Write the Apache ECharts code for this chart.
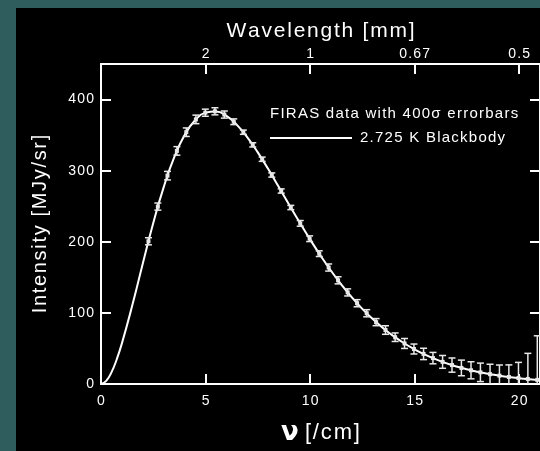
<!DOCTYPE html>
<html>
<head>
<meta charset="utf-8">
<script src="https://cdn.jsdelivr.net/npm/echarts@6/dist/echarts.min.js"></script>
<style>
  html, body { margin: 0; padding: 0; background: #2f5c5c; }
  #chart { width: 540px; height: 451px; }
</style>
</head>
<body>
<div id="chart"></div>
<script>
// FIRAS monopole points: frequency [/cm], intensity [MJy/sr], 400 sigma half error [MJy/sr]
var freq = [2.27, 2.72, 3.18, 3.63, 4.08, 4.54, 4.99, 5.45, 5.90, 6.35, 6.81, 7.26, 7.71, 8.17, 8.62,
            9.08, 9.53, 9.98, 10.44, 10.89, 11.34, 11.80, 12.25, 12.71, 13.16, 13.61, 14.07, 14.52,
            14.97, 15.43, 15.88, 16.34, 16.79, 17.24, 17.70, 18.15, 18.61, 19.06, 19.51, 19.97,
            20.42, 20.87, 21.33];
var intensity = [200.7, 249.5, 293.0, 327.8, 354.1, 372.1, 381.5, 383.5, 378.9, 368.8, 354.1, 336.3,
                 316.1, 293.9, 271.4, 248.2, 225.9, 204.3, 183.3, 163.8, 145.8, 128.8, 113.6, 99.5,
                 87.0, 75.9, 65.8, 57.0, 49.2, 42.3, 36.4, 31.1, 26.6, 22.6, 19.3, 16.4, 13.8, 11.7,
                 9.9, 8.4, 7.1, 5.8, 4.5];
var errHalf = [5, 5, 6, 6, 6, 6, 5, 5, 5, 4, 3, 3, 3, 3, 3, 3, 4, 4, 4, 5, 5, 5, 5, 5, 5, 6, 6, 7,
               7, 8, 8, 9, 10, 11, 12, 13, 14, 15, 17, 22, 36, 62, 100];

// 2.725 K blackbody curve
var bbFreq = [0, 0.25, 0.5, 0.75, 1, 1.5, 2, 2.5, 3, 3.5, 4, 4.5, 5, 5.5, 6, 6.5, 7, 7.5, 8, 8.5,
              9, 9.5, 10, 10.5, 11, 11.5, 12, 12.5, 13, 13.5, 14, 14.5, 15, 15.5, 16, 16.5, 17,
              17.5, 18, 18.5, 19, 19.5, 20, 20.5, 21, 21.5];
var bbIntensity = [0, 4.4, 16.4, 34.5, 57.1, 111.0, 169.5, 226.3, 276.9, 318.6, 350.0, 370.9, 381.6,
                   383.3, 377.0, 364.4, 346.9, 325.7, 302.2, 277.4, 252.2, 227.4, 203.4, 180.6,
                   159.3, 139.7, 121.8, 105.7, 91.3, 78.5, 67.2, 57.3, 48.8, 41.3, 34.9, 29.4, 24.7,
                   20.7, 17.3, 14.4, 12.0, 9.9, 8.2, 6.8, 5.6, 4.6];

// top axis: wavelength labels at wavenumber ticks
var waveTicks = [5, 10, 15, 20];
var waveLabels = ['2', '1', '0.67', '0.5'];

var font = "'Liberation Sans', Arial, Helvetica, sans-serif";
var teal = '#2f5c5c';

// the original lettering is widely tracked, fake it with hair spaces
function track(s) {
    return String(s).split('').join('\u200a');
}

var firas = freq.map(function (f, i) { return [f, intensity[i], errHalf[i]]; });
var blackbody = bbFreq.map(function (f, i) { return [f, bbIntensity[i]]; });

var chart = echarts.init(document.getElementById('chart'));

function axisCommon(extra) {
    var base = {
        type: 'value',
        axisLine: { show: true, onZero: false, lineStyle: { color: '#fff', width: 2 } },
        axisTick: { show: true, inside: true, length: 10, lineStyle: { color: '#fff', width: 2 } },
        splitLine: { show: false }
    };
    for (var k in extra) base[k] = extra[k];
    return base;
}

function tickLabel(margin, formatter) {
    return {
        color: '#fff', fontFamily: font, fontSize: 14, margin: margin, showMaxLabel: false,
        formatter: formatter || function (v) { return track(v); }
    };
}

var option = {
    backgroundColor: '#000',
    animation: false,
    graphic: [
        { type: 'rect', shape: { x: 0, y: 0, width: 16, height: 451 }, style: { fill: teal }, z: 100 },
        { type: 'rect', shape: { x: 0, y: 0, width: 540, height: 8 }, style: { fill: teal }, z: 100 },
        { type: 'text', left: 270, top: 106,
          style: { text: track('FIRAS data with 400\u03c3 errorbars'), fill: '#fff', font: '15px ' + font } },
        { type: 'line', shape: { x1: 270, y1: 138, x2: 352, y2: 138 }, style: { stroke: '#fff', lineWidth: 2 } },
        { type: 'text', left: 360, top: 130,
          style: { text: track('2.725 K Blackbody'), fill: '#fff', font: '15px ' + font } }
    ],
    grid: { left: 101, top: 64, width: 440, height: 324 },
    xAxis: [
        axisCommon({
            position: 'bottom', min: 0, max: 21, interval: 5,
            axisLabel: tickLabel(10),
            name: '{nu|\u03bd} ' + track('[/cm]'), nameLocation: 'middle', nameGap: 36,
            nameMoveOverlap: false,
            nameTextStyle: {
                color: '#fff', fontFamily: font, fontSize: 22,
                rich: { nu: { fontFamily: "'DejaVu Sans', sans-serif", fontSize: 26, fontWeight: 'bold', color: '#fff' } }
            }
        }),
        axisCommon({
            position: 'top', min: 0, max: 21, interval: 5,
            axisLabel: tickLabel(3, function (v) {
                var i = waveTicks.indexOf(v);
                return i < 0 ? '' : track(waveLabels[i]);
            }),
            name: track('Wavelength [mm]'),
            nameLocation: 'middle', nameGap: 22, nameMoveOverlap: false,
            nameTextStyle: { color: '#fff', fontFamily: font, fontSize: 21 }
        })
    ],
    yAxis: [
        axisCommon({
            position: 'left', min: 0, max: 450, interval: 100,
            axisLabel: tickLabel(7),
            name: track('Intensity [MJy/sr]'), nameLocation: 'middle', nameGap: 51, nameMoveOverlap: false,
            nameTextStyle: { color: '#fff', fontFamily: font, fontSize: 20 }
        }),
        axisCommon({
            position: 'right', min: 0, max: 450, interval: 100,
            axisLabel: { show: false }
        })
    ],
    series: [
        {
            name: '2.725 K Blackbody',
            type: 'line',
            data: blackbody,
            smooth: true,
            showSymbol: false,
            lineStyle: { color: '#fff', width: 2 },
            z: 2
        },
        {
            name: 'FIRAS',
            type: 'custom',
            data: firas,
            clip: true,
            z: 3,
            renderItem: function (params, api) {
                var x = api.value(0), y = api.value(1), e = api.value(2);
                var c = api.coord([x, y]);
                var hi = api.coord([x, y + e]);
                var lo = api.coord([x, y - e]);
                var cap = 3.5;
                var st = { stroke: '#e8e8e8', lineWidth: 1.5 };
                return {
                    type: 'group',
                    children: [
                        { type: 'line', shape: { x1: c[0], y1: hi[1], x2: c[0], y2: lo[1] }, style: st },
                        { type: 'line', shape: { x1: c[0] - cap, y1: hi[1], x2: c[0] + cap, y2: hi[1] }, style: st },
                        { type: 'line', shape: { x1: c[0] - cap, y1: lo[1], x2: c[0] + cap, y2: lo[1] }, style: st },
                        { type: 'rect', shape: { x: c[0] - 2, y: c[1] - 2, width: 4, height: 4 },
                          style: { fill: '#e8e8e8' } }
                    ]
                };
            }
        }
    ]
};
chart.setOption(option);
</script>
</body>
</html>
